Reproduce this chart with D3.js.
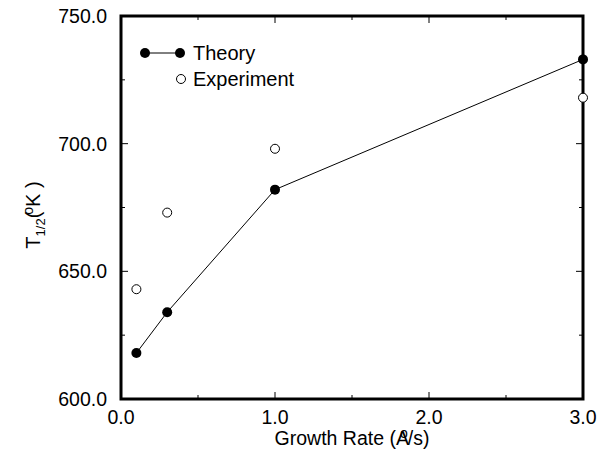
<!DOCTYPE html>
<html>
<head>
<meta charset="utf-8">
<script src="https://cdn.jsdelivr.net/npm/d3@7"></script>
<style>
  body { margin: 0; background: #fff; }
  text { font-family: "Liberation Sans", Arial, sans-serif; fill: #000; }
</style>
</head>
<body>
<svg id="chart" width="606" height="456"></svg>
<script>
// growth rate (A/s) and T1/2 (K)
var rates = [0.1, 0.3, 1.0, 3.0];
var theory = [618, 634, 682, 733];
var experiment = [643, 673, 698, 718];
var xTicks = [0, 1, 2, 3];
var yTicks = [600, 650, 700, 750];

var svg = d3.select("#chart");
var pLeft = 121, pRight = 583, pTop = 16, pBottom = 399;

var x = d3.scaleLinear().domain([0, 3]).range([pLeft, pRight]);
var y = d3.scaleLinear().domain([600, 750]).range([pBottom, pTop]);

// tick marks, inward on all four sides
var minorX = d3.range(0, 3.01, 0.5), minorY = d3.range(600, 751, 25);
var g = svg.append("g").attr("stroke", "#000").attr("stroke-width", 1);
minorX.forEach(function (v) {
  var len = (v % 1 === 0) ? 7 : 4;
  g.append("line").attr("x1", x(v)).attr("x2", x(v)).attr("y1", pBottom).attr("y2", pBottom - len);
  g.append("line").attr("x1", x(v)).attr("x2", x(v)).attr("y1", pTop).attr("y2", pTop + len);
});
minorY.forEach(function (v) {
  var len = (v % 50 === 0) ? 7 : 4;
  g.append("line").attr("y1", y(v)).attr("y2", y(v)).attr("x1", pLeft).attr("x2", pLeft + len);
  g.append("line").attr("y1", y(v)).attr("y2", y(v)).attr("x1", pRight).attr("x2", pRight - len);
});

// frame
svg.append("rect")
  .attr("x", pLeft).attr("y", pTop)
  .attr("width", pRight - pLeft).attr("height", pBottom - pTop)
  .attr("fill", "none").attr("stroke", "#000").attr("stroke-width", 3);

// tick labels
svg.selectAll(".xl").data(xTicks).enter().append("text")
  .attr("x", function (d) { return x(d); })
  .attr("y", 424)
  .attr("text-anchor", "middle")
  .attr("font-size", 19.5)
  .text(function (d) { return d.toFixed(1); });

svg.selectAll(".yl").data(yTicks).enter().append("text")
  .attr("x", 107)
  .attr("y", function (d) { return y(d) + 7; })
  .attr("text-anchor", "end")
  .attr("font-size", 19.5)
  .text(function (d) { return d.toFixed(1); });

// theory line + markers
var line = d3.line()
  .x(function (d, i) { return x(rates[i]); })
  .y(function (d) { return y(d); });
svg.append("path").datum(theory)
  .attr("d", line).attr("fill", "none").attr("stroke", "#000").attr("stroke-width", 1);
svg.selectAll(".th").data(theory).enter().append("circle")
  .attr("cx", function (d, i) { return x(rates[i]); })
  .attr("cy", function (d) { return y(d); })
  .attr("r", 5).attr("fill", "#000");

svg.selectAll(".ex").data(experiment).enter().append("circle")
  .attr("cx", function (d, i) { return x(rates[i]); })
  .attr("cy", function (d) { return y(d); })
  .attr("r", 4.5).attr("fill", "#fff").attr("stroke", "#000").attr("stroke-width", 1);

// legend
svg.append("line").attr("x1", 145).attr("x2", 180).attr("y1", 53).attr("y2", 53)
  .attr("stroke", "#000").attr("stroke-width", 1);
svg.append("circle").attr("cx", 145).attr("cy", 53).attr("r", 5).attr("fill", "#000");
svg.append("circle").attr("cx", 180).attr("cy", 53).attr("r", 5).attr("fill", "#000");
svg.append("text").attr("x", 193).attr("y", 60).attr("font-size", 20).text("Theory");
svg.append("circle").attr("cx", 181).attr("cy", 79).attr("r", 4.5)
  .attr("fill", "#fff").attr("stroke", "#000");
svg.append("text").attr("x", 193).attr("y", 86).attr("font-size", 20).text("Experiment");

// axis titles
var xt = svg.append("text").attr("x", 352).attr("y", 445)
  .attr("text-anchor", "middle").attr("font-size", 19.5);
xt.append("tspan").text("Growth Rate (A");
xt.append("tspan").attr("font-size", 14).attr("dx", -9).attr("dy", -7).text("o");
xt.append("tspan").attr("dy", 7).text("/s)");

var yt = svg.append("text")
  .attr("transform", "translate(40,215) rotate(-90)")
  .attr("text-anchor", "middle").attr("font-size", 20);
yt.append("tspan").text("T");
yt.append("tspan").attr("font-size", 13).attr("dy", 5).text("1/2");
yt.append("tspan").attr("dy", -5).text("(");
yt.append("tspan").attr("font-size", 14).attr("dx", -3).attr("dy", -7).text("o");
yt.append("tspan").attr("dy", 7).text("K )");
</script>
</body>
</html>
